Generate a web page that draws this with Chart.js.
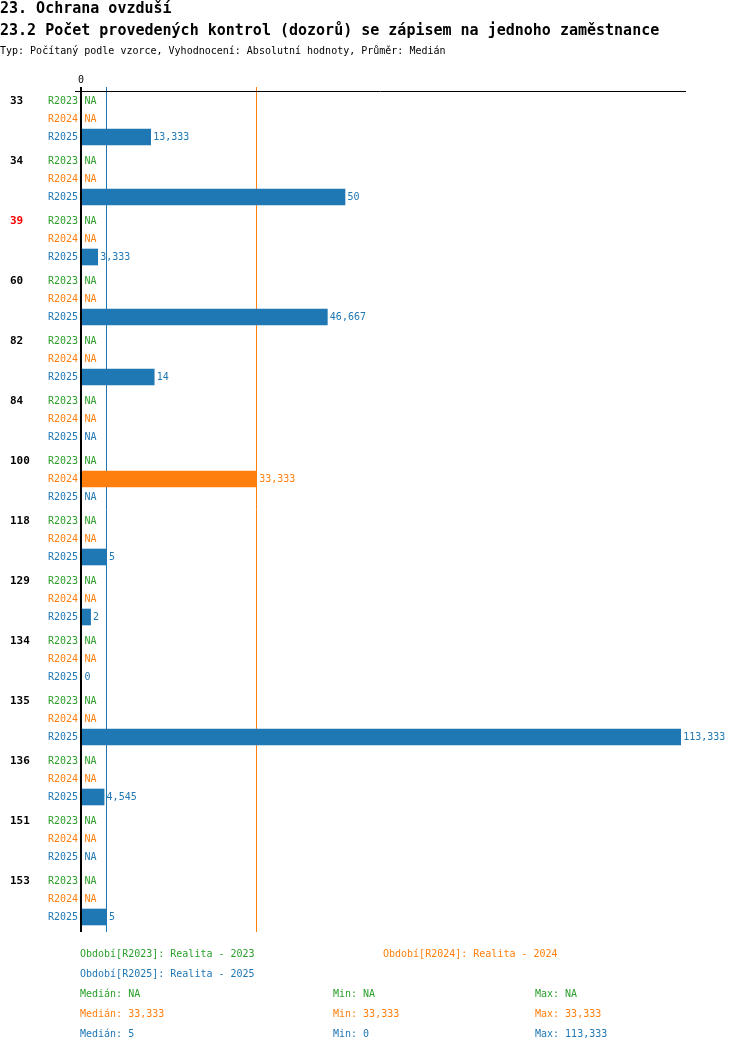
<!DOCTYPE html>
<html>
<head>
<meta charset="utf-8">
<script src="https://cdn.jsdelivr.net/npm/chart.js@4"></script>
<style>
  html, body { margin: 0; padding: 0; background: #fff; }
  #wrap { width: 750px; height: 1052px; }
</style>
</head>
<body>
<div id="wrap"><canvas id="chart" width="750" height="1052"></canvas></div>
<script>
// data (null = NA)
const categories = ['33', '34', '39', '60', '82', '84', '100', '118', '129', '134', '135', '136', '151', '153'];
const highlighted = ['39'];
const seriesNames = ['R2023', 'R2024', 'R2025'];
const seriesTitles = ['Realita - 2023', 'Realita - 2024', 'Realita - 2025'];
const r2023 = [null, null, null, null, null, null, null, null, null, null, null, null, null, null];
const r2024 = [null, null, null, null, null, null, 33.333, null, null, null, null, null, null, null];
const r2025 = [13.333, 50, 3.333, 46.667, 14, null, null, 5, 2, 0, 113.333, 4.545, null, 5];
const xTicks = [0];

const colors = ['#2ca02c', '#ff7f0e', '#1f77b4'];
const series = [r2023, r2024, r2025];
const MONO = '"DejaVu Sans Mono", "Liberation Mono", monospace';

// rows: 3 per category, 18 units each, 6 units gap
const GROUP = 60, ROW = 18;
const rowPos = (g, k) => g * GROUP + 9 + k * ROW;

function fmt(v) {
  if (v === null || v === undefined) return 'NA';
  return String(Math.round(v * 1000) / 1000).replace('.', ',');
}
function stats(arr) {
  const v = arr.filter(x => x !== null).sort((a, b) => a - b);
  if (!v.length) return { med: null, min: null, max: null };
  const m = v.length % 2 ? v[(v.length - 1) / 2] : (v[v.length / 2 - 1] + v[v.length / 2]) / 2;
  return { med: m, min: v[0], max: v[v.length - 1] };
}
const seriesStats = series.map(stats);

const datasets = series.map((arr, i) => ({
  label: seriesNames[i],
  data: arr.map((v, g) => ({ x: v, y: rowPos(g, i) })),
  backgroundColor: colors[i],
  borderWidth: 0,
  barThickness: 16,
  grouped: false
}));

const overlay = {
  id: 'overlay',
  beforeDatasetsDraw(chart) {
    const ctx = chart.ctx, xs = chart.scales.x;
    const area = chart.chartArea;
    ctx.save();
    // median lines
    seriesStats.forEach((s, i) => {
      if (s.med === null) return;
      const px = Math.floor(xs.getPixelForValue(s.med)) + 0.5;
      ctx.strokeStyle = colors[i];
      ctx.lineWidth = 1;
      ctx.beginPath();
      ctx.moveTo(px, area.top - 5);
      ctx.lineTo(px, area.bottom);
      ctx.stroke();
    });
    ctx.restore();
  },
  afterDatasetsDraw(chart) {
    const ctx = chart.ctx, xs = chart.scales.x, ys = chart.scales.y;
    const area = chart.chartArea;
    ctx.save();
    // top axis line
    ctx.strokeStyle = '#000';
    ctx.lineWidth = 1;
    ctx.beginPath();
    ctx.moveTo(75, area.top - 0.5);
    ctx.lineTo(area.right, area.top - 0.5);
    ctx.stroke();
    // zero axis
    const x0 = xs.getPixelForValue(0);
    ctx.lineWidth = 2;
    ctx.beginPath();
    ctx.moveTo(x0 + 1, area.top - 5);
    ctx.lineTo(x0 + 1, area.bottom);
    ctx.stroke();
    // tick labels
    ctx.fillStyle = '#000';
    ctx.font = '10px ' + MONO;
    ctx.textAlign = 'center';
    ctx.textBaseline = 'middle';
    xTicks.forEach(t => ctx.fillText(String(t), xs.getPixelForValue(t) + 1, 80));

    categories.forEach((c, g) => {
      ctx.font = 'bold 11px ' + MONO;
      ctx.textAlign = 'left';
      ctx.fillStyle = highlighted.includes(c) ? '#ff0000' : '#000';
      ctx.fillText(c, 10, ys.getPixelForValue(rowPos(g, 0)));
      series.forEach((arr, i) => {
        const py = ys.getPixelForValue(rowPos(g, i));
        ctx.font = '10px ' + MONO;
        ctx.fillStyle = colors[i];
        ctx.textAlign = 'right';
        ctx.fillText(seriesNames[i], 78, py);
        ctx.textAlign = 'left';
        const v = arr[g];
        const end = v === null ? x0 + 2 : Math.max(xs.getPixelForValue(v), x0 + 2);
        ctx.fillText(fmt(v), end + 2.5, py);
      });
    });

    // titles
    ctx.fillStyle = '#000';
    ctx.textAlign = 'left';
    ctx.font = 'bold 15px ' + MONO;
    ctx.fillText('23. Ochrana ovzduší', 0, 9);
    ctx.fillText('23.2 Počet provedených kontrol (dozorů) se zápisem na jednoho zaměstnance', 0, 31);
    ctx.font = '10px ' + MONO;
    ctx.fillText('Typ: Počítaný podle vzorce, Vyhodnocení: Absolutní hodnoty, Průměr: Medián', 0, 51);

    // legend
    const legPos = [[80, 954], [383, 954], [80, 974]];
    series.forEach((arr, i) => {
      ctx.fillStyle = colors[i];
      ctx.fillText('Období[' + seriesNames[i] + ']: ' + seriesTitles[i], legPos[i][0], legPos[i][1]);
      const s = seriesStats[i], y = 994 + i * 20;
      ctx.fillText('Medián: ' + fmt(s.med), 80, y);
      ctx.fillText('Min: ' + fmt(s.min), 333, y);
      ctx.fillText('Max: ' + fmt(s.max), 535, y);
    });
    ctx.restore();
  }
};

new Chart(document.getElementById('chart'), {
  type: 'bar',
  data: { datasets },
  options: {
    indexAxis: 'y',
    responsive: false,
    animation: false,
    devicePixelRatio: 1,
    layout: { padding: { left: 80, right: 64, top: 92, bottom: 120 } },
    scales: {
      x: { type: 'linear', min: 0, max: 114.34, display: false },
      y: { type: 'linear', min: 0, max: categories.length * GROUP, reverse: true, offset: false, display: false }
    },
    plugins: { legend: { display: false }, tooltip: { enabled: false } }
  },
  plugins: [overlay]
});
</script>
</body>
</html>
